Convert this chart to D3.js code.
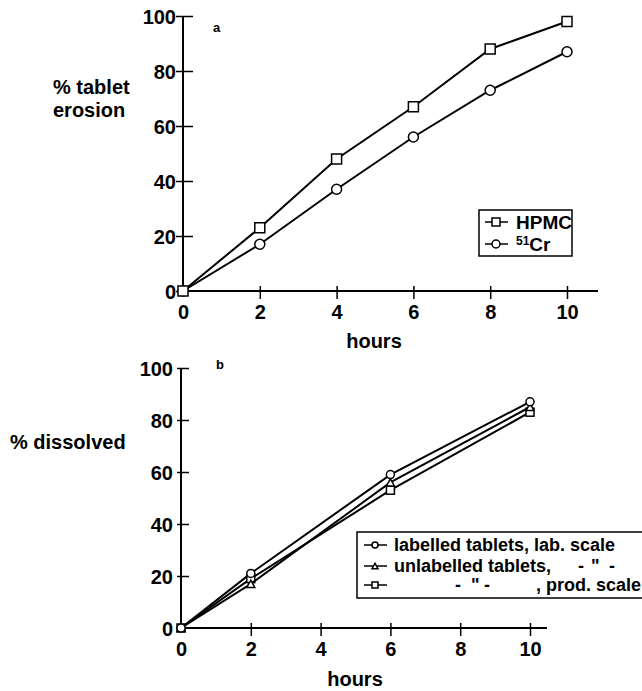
<!DOCTYPE html>
<html>
<head>
<meta charset="utf-8">
<script src="https://cdn.jsdelivr.net/npm/d3@7"></script>
<style>
  body { margin: 0; background: #fff; }
  text { font-family: "Liberation Sans", Arial, sans-serif; font-weight: bold; fill: #000; }
</style>
</head>
<body>
<div id="chart"></div>
<script>
// panel a: tablet erosion
var hoursA = [0, 2, 4, 6, 8, 10];
var hpmc = [0, 23, 48, 67, 88, 98];
var cr51 = [0, 17, 37, 56, 73, 87];

// panel b: dissolution
var hoursB = [0, 2, 6, 10];
var labelledLab = [0, 21, 59, 87];
var unlabelledLab = [0, 17, 56, 85];
var unlabelledProd = [0, 19, 53, 83];

var xTicks = [0, 2, 4, 6, 8, 10];
var yTicks = [0, 20, 40, 60, 80, 100];

var svg = d3.select('#chart').append('svg')
  .attr('width', 642)
  .attr('height', 691);

// Step 1: scales for both panels
var xA = d3.scaleLinear().domain([0, 10]).range([183, 567]);
var yA = d3.scaleLinear().domain([0, 100]).range([291, 16]);
var xB = d3.scaleLinear().domain([0, 10]).range([181, 530]);
var yB = d3.scaleLinear().domain([0, 100]).range([628, 368]);

function drawAxes(x, y, xEnd, tl, tr, labPad) {
  var gx = svg.append('g').attr('transform', 'translate(0,' + y(0) + ')')
    .call(d3.axisBottom(x).tickValues(xTicks).tickSize(8).tickSizeOuter(0).tickPadding(6));
  gx.select('.domain').remove();
  gx.append('line').attr('x1', x(0)).attr('x2', xEnd)
    .attr('stroke', '#000').attr('stroke-width', 2);
  gx.selectAll('.tick line').attr('y1', -5).attr('stroke-width', 1.5);
  gx.selectAll('.tick').filter(function(d) { return d === 0; }).select('line').remove();
  gx.selectAll('.tick text').style('font-size', '20px').attr('fill', '#000');

  var gy = svg.append('g').attr('transform', 'translate(' + x(0) + ',0)')
    .call(d3.axisLeft(y).tickValues(yTicks).tickSize(tl).tickSizeOuter(0).tickPadding(labPad));
  gy.select('.domain').remove();
  gy.append('line').attr('y1', y(0)).attr('y2', y(100))
    .attr('stroke', '#000').attr('stroke-width', 2);
  gy.selectAll('.tick line').attr('x1', tr).attr('stroke-width', 1.5);
  gy.selectAll('.tick').filter(function(d) { return d === 0; }).select('line').attr('x1', 0);
  gy.selectAll('.tick text').style('font-size', '20px').attr('fill', '#000')
    .attr('dy', '0.36em');
}

drawAxes(xA, yA, 598, 7, 10, 0);
drawAxes(xB, yB, 547, 4, 8, 4);

// Step 2: markers
function marker(g, kind, cx, cy, s) {
  if (kind === 'circle') {
    g.append('circle').attr('cx', cx).attr('cy', cy).attr('r', s / 2)
      .attr('fill', '#fff').attr('stroke', '#000').attr('stroke-width', 1.5);
  } else if (kind === 'square') {
    g.append('rect').attr('x', cx - s / 2).attr('y', cy - s / 2)
      .attr('width', s).attr('height', s)
      .attr('fill', '#fff').attr('stroke', '#000').attr('stroke-width', 1.5);
  } else {
    var h = s * 0.9;
    g.append('path')
      .attr('d', 'M' + cx + ',' + (cy - h / 2) + 'L' + (cx + s / 2) + ',' + (cy + h / 2) +
        'L' + (cx - s / 2) + ',' + (cy + h / 2) + 'Z')
      .attr('fill', '#fff').attr('stroke', '#000').attr('stroke-width', 1.5);
  }
}

function series(x, y, xs, ys, kind, s) {
  var line = d3.line().x(function(d, i) { return x(xs[i]); }).y(function(d) { return y(d); });
  svg.append('path').datum(ys).attr('d', line)
    .attr('fill', 'none').attr('stroke', '#000').attr('stroke-width', 2);
  var g = svg.append('g');
  ys.forEach(function(v, i) { marker(g, kind, x(xs[i]), y(v), s); });
}

series(xA, yA, hoursA, cr51, 'circle', 10);
series(xA, yA, hoursA, hpmc, 'square', 10);

series(xB, yB, hoursB, unlabelledProd, 'square', 8);
series(xB, yB, hoursB, unlabelledLab, 'triangle', 8);
series(xB, yB, hoursB, labelledLab, 'circle', 8);

// Step 3: labels
svg.append('text').attr('x', 53).attr('y', 94).style('font-size', '20px').text('% tablet');
svg.append('text').attr('x', 53).attr('y', 117).style('font-size', '20px').text('erosion');
svg.append('text').attr('x', 10).attr('y', 449).style('font-size', '20px').text('% dissolved');

svg.append('text').attr('x', 374).attr('y', 348).attr('text-anchor', 'middle')
  .style('font-size', '20px').text('hours');
svg.append('text').attr('x', 355).attr('y', 686).attr('text-anchor', 'middle')
  .style('font-size', '20px').text('hours');

svg.append('text').attr('x', 213).attr('y', 32).style('font-size', '13px').text('a');
svg.append('text').attr('x', 216).attr('y', 369).style('font-size', '13px').text('b');

// Step 4: legend a
svg.append('rect').attr('x', 479).attr('y', 210).attr('width', 93).attr('height', 46)
  .attr('fill', '#fff').attr('stroke', '#000').attr('stroke-width', 1.5);
var legA = [['square', 222], ['circle', 244]];
legA.forEach(function(d) {
  svg.append('line').attr('x1', 485).attr('x2', 508).attr('y1', d[1]).attr('y2', d[1])
    .attr('stroke', '#000').attr('stroke-width', 1.5);
  marker(svg, d[0], 496, d[1], 8);
});
svg.append('text').attr('x', 516).attr('y', 229).style('font-size', '19px').text('HPMC');
var crText = svg.append('text').attr('x', 516).attr('y', 251).style('font-size', '19px');
crText.append('tspan').style('font-size', '12px').attr('dy', '-6').text('51');
crText.append('tspan').attr('dy', '6').text('Cr');

// Step 5: legend b
svg.append('rect').attr('x', 357).attr('y', 532).attr('width', 290).attr('height', 66)
  .attr('fill', '#fff').attr('stroke', '#000').attr('stroke-width', 1.5);
// each row: marker, y, then [x, text] pieces
var legB = [
  ['circle', 545, [[394, 'labelled tablets, lab. scale']]],
  ['triangle', 566, [[394, 'unlabelled tablets,'], [578, '-'], [591, '"'], [609, '-']]],
  ['square', 585, [[455, '-'], [471, '"'], [484, '-'], [536, ', prod. scale']]]
];
legB.forEach(function(d) {
  svg.append('line').attr('x1', 364).attr('x2', 387).attr('y1', d[1]).attr('y2', d[1])
    .attr('stroke', '#000').attr('stroke-width', 1.5);
  marker(svg, d[0], 375, d[1], 6);
  d[2].forEach(function(p) {
    svg.append('text').attr('x', p[0]).attr('y', d[1] + 6).style('font-size', '18px').text(p[1]);
  });
});
</script>
</body>
</html>
